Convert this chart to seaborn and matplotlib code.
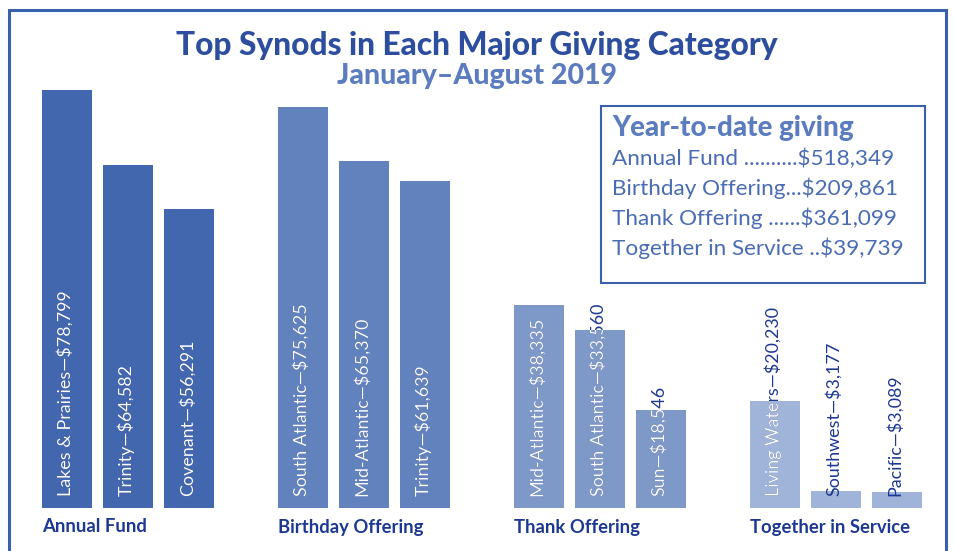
import matplotlib
matplotlib.use("Agg")
import matplotlib.pyplot as plt
import seaborn as sns
import pandas as pd
from matplotlib.patches import Rectangle

# data
categories = ["Annual Fund", "Birthday Offering", "Thank Offering", "Together in Service"]
synods = [
    ["Lakes & Prairies", "Trinity", "Covenant"],
    ["South Atlantic", "Mid-Atlantic", "Trinity"],
    ["Mid-Atlantic", "South Atlantic", "Sun"],
    ["Living Waters", "Southwest", "Pacific"],
]
amounts = [
    [78799, 64582, 56291],
    [75625, 65370, 61639],
    [38335, 33560, 18546],
    [20230, 3177, 3089],
]
ytd_labels = ["Annual Fund ..........", "Birthday Offering...",
              "Thank Offering ......", "Together in Service .."]
ytd_totals = [518349, 209861, 361099, 39739]

bar_colors = ["#4367ae", "#6282bd", "#7e99c8", "#a0b3d8"]
navy = "#1d3892"
title_blue = "#2d4e9f"
light_blue = "#5b7cbe"
frame_blue = "#3a5fad"

rows = []
for cat, names, vals in zip(categories, synods, amounts):
    for rank, (name, val) in enumerate(zip(names, vals)):
        rows.append({"category": cat, "rank": rank, "synod": name, "value": val})
df = pd.DataFrame(rows)

sns.set_theme(style="white")
plt.rcParams["font.family"] = ["Lato", "DejaVu Sans"]

W, H = 954, 551
fig = plt.figure(figsize=(W / 100, H / 100), dpi=100)
# baseline at y=508 px from top, tallest bar reaches y=90
ax = fig.add_axes([10 / W, 43 / H, 944 / W, 465 / H])
sns.barplot(data=df, x="category", y="value", hue="rank", order=categories,
            width=0.775, gap=0.18, dodge=True, legend=False, ax=ax,
            palette=["#000000"] * 3, saturation=1)
ax.set_xlim(-0.5, 3.5)
ax.set_ylim(0, max(amounts[0]) * 465 / 418)
ax.axis("off")

top = max(max(v) for v in amounts)
for rank, cont in enumerate(ax.containers):
    for ci, bar in enumerate(cont.patches):
        bar.set_facecolor(bar_colors[ci])
        bar.set_edgecolor("none")
        label = f"{synods[ci][rank]}\u2014${amounts[ci][rank]:,}"
        xc = bar.get_x() + bar.get_width() / 2
        kw = dict(xy=(xc, 0), xytext=(-2, 12), textcoords="offset pixels",
                  rotation=90, ha="center", va="bottom", fontsize=12.9,
                  annotation_clip=False)
        ax.annotate(label, color=navy, **kw)
        # white where the label sits on the bar (tiny bars keep navy text)
        if amounts[ci][rank] > 0.1 * top:
            white = ax.annotate(label, color="white", **kw)
            white.set_clip_path(bar)

# category names under each group
for ci, cat in enumerate(categories):
    left = ax.containers[0].patches[ci].get_x()
    ax.annotate(cat, xy=(left, 0), xytext=(0, -19), textcoords="offset pixels",
                ha="left", va="center", fontsize=13.3, fontweight="bold",
                color=navy, annotation_clip=False)

fig.text(0.5, 1 - 45 / H, "Top Synods in Each Major Giving Category",
         ha="center", va="center", fontsize=22.8, fontweight="black", color=title_blue)
fig.text(0.5, 1 - 76 / H, "January\u2013August 2019",
         ha="center", va="center", fontsize=20.5, fontweight="black", color=light_blue)

# year-to-date box
fig.add_artist(Rectangle((601 / W, 1 - 283 / H), 324 / W, 177 / H,
                         transform=fig.transFigure, fill=False,
                         ec=frame_blue, lw=1.5))
fig.text(612 / W, 1 - 128 / H, "Year-to-date giving", ha="left", va="center",
         fontsize=20, fontweight="black", color=light_blue)
for i, (lab, tot) in enumerate(zip(ytd_labels, ytd_totals)):
    fig.text(612 / W, 1 - (159 + 29.7 * i) / H, f"{lab}${tot:,}", ha="left",
             va="center", fontsize=16.2, color="#4a6cb4")

# outer frame, open at the bottom
fig.add_artist(Rectangle((9 / W, -0.05), 937 / W, (H - 10) / H + 0.05,
                         transform=fig.transFigure, fill=False,
                         ec=frame_blue, lw=2.2))

fig.savefig("out.png", dpi=100)
